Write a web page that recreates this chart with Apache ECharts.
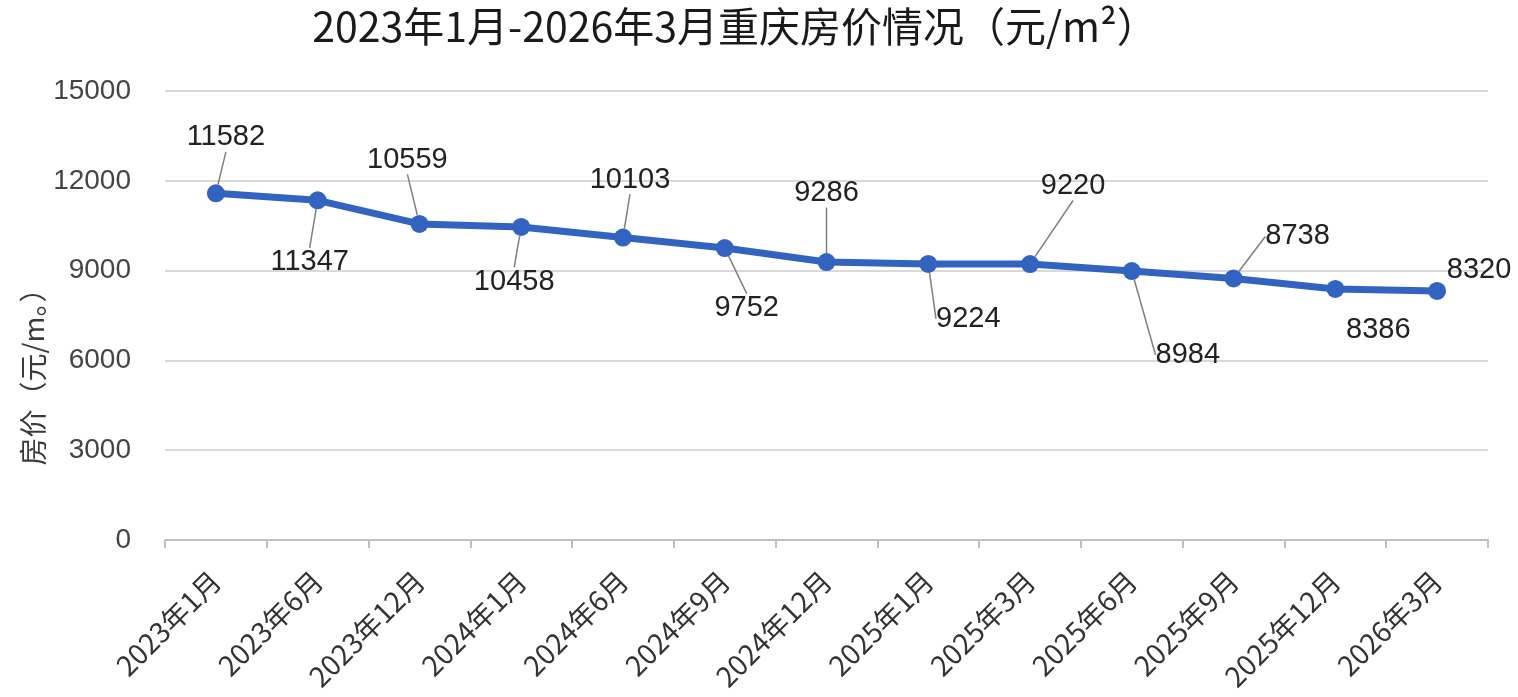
<!DOCTYPE html>
<html><head><meta charset="utf-8">
<script src="https://cdn.jsdelivr.net/npm/echarts@6/dist/echarts.min.js"></script>
<style>html,body{margin:0;padding:0;background:#fff}#c{width:1518px;height:697px}</style>
</head><body><div id="c"></div>
<script>
const categories = ['2023年1月','2023年6月','2023年12月','2024年1月','2024年6月','2024年9月','2024年12月','2025年1月','2025年3月','2025年6月','2025年9月','2025年12月','2026年3月'];
const prices = [11582,11347,10559,10458,10103,9752,9286,9224,9220,8984,8738,8386,8320];
const yTicks = [0,3000,6000,9000,12000,15000];
const titleText = '2023年1月-2026年3月重庆房价情况（元/m²）';
const yName = '房价（元/m。）';

// label displacement (pixels) and whether to draw leader line
const labelDx = [10,-8,-12,-7,7,22,0,40,43,56,64,43,42];
const labelDy = [-56,62,-64,55,-58,60,-69,55,-78,84,-42,41,-21];
const leader = [1,1,1,1,1,1,1,1,1,1,1,0,0];

const FONT = "'Liberation Sans','Noto Sans CJK SC',sans-serif";
const CJK = "'Noto Sans CJK SC',sans-serif";
const chart = echarts.init(document.getElementById('c'));
chart.setOption({
  animation:false,
  backgroundColor:'#ffffff',
  title:{text:titleText,left:730,top:1,textAlign:'center',
    textStyle:{fontFamily:CJK,fontSize:41,fontWeight:'normal',color:'#1a1a1a'}},
  grid:{left:165,right:30,top:91,bottom:157},
  graphic:[{type:'text',x:33,y:370,rotation:Math.PI/2,
    style:{text:yName,font:"28px 'Noto Sans CJK SC',sans-serif",fill:'#3a3a3a',align:'center',verticalAlign:'middle'}}],
  xAxis:{type:'category',data:categories,boundaryGap:true,
    axisLine:{lineStyle:{color:'#bfbfbf',width:2}},
    axisTick:{show:true,length:8,lineStyle:{color:'#bfbfbf',width:2}},
    axisLabel:{rotate:45,fontSize:28,color:'#333',margin:36,fontFamily:CJK,interval:0}},
  yAxis:{type:'value',min:0,max:15000,interval:3000,
    axisLine:{show:false},axisTick:{show:false},
    axisLabel:{fontSize:28,color:'#444',margin:34,fontFamily:FONT,
      formatter:v=>yTicks.includes(v)?String(v):''},
    splitLine:{lineStyle:{color:'#d9d9d9',width:2}}},
  series:[{type:'line',data:prices.map((v,i)=>({value:v,labelLine:{show:!!leader[i]}})),
    symbol:'circle',symbolSize:18,
    lineStyle:{color:'#3263c0',width:7},
    itemStyle:{color:'#3263c0'},
    label:{show:true,position:'inside',fontSize:29,color:'#222',fontFamily:FONT},
    labelLine:{show:true,lineStyle:{color:'#7f7f7f',width:1.5}},
    labelLayout:function(p){const i=p.dataIndex;return {dx:labelDx[i],dy:labelDy[i]};}
  }]
});
</script></body></html>
